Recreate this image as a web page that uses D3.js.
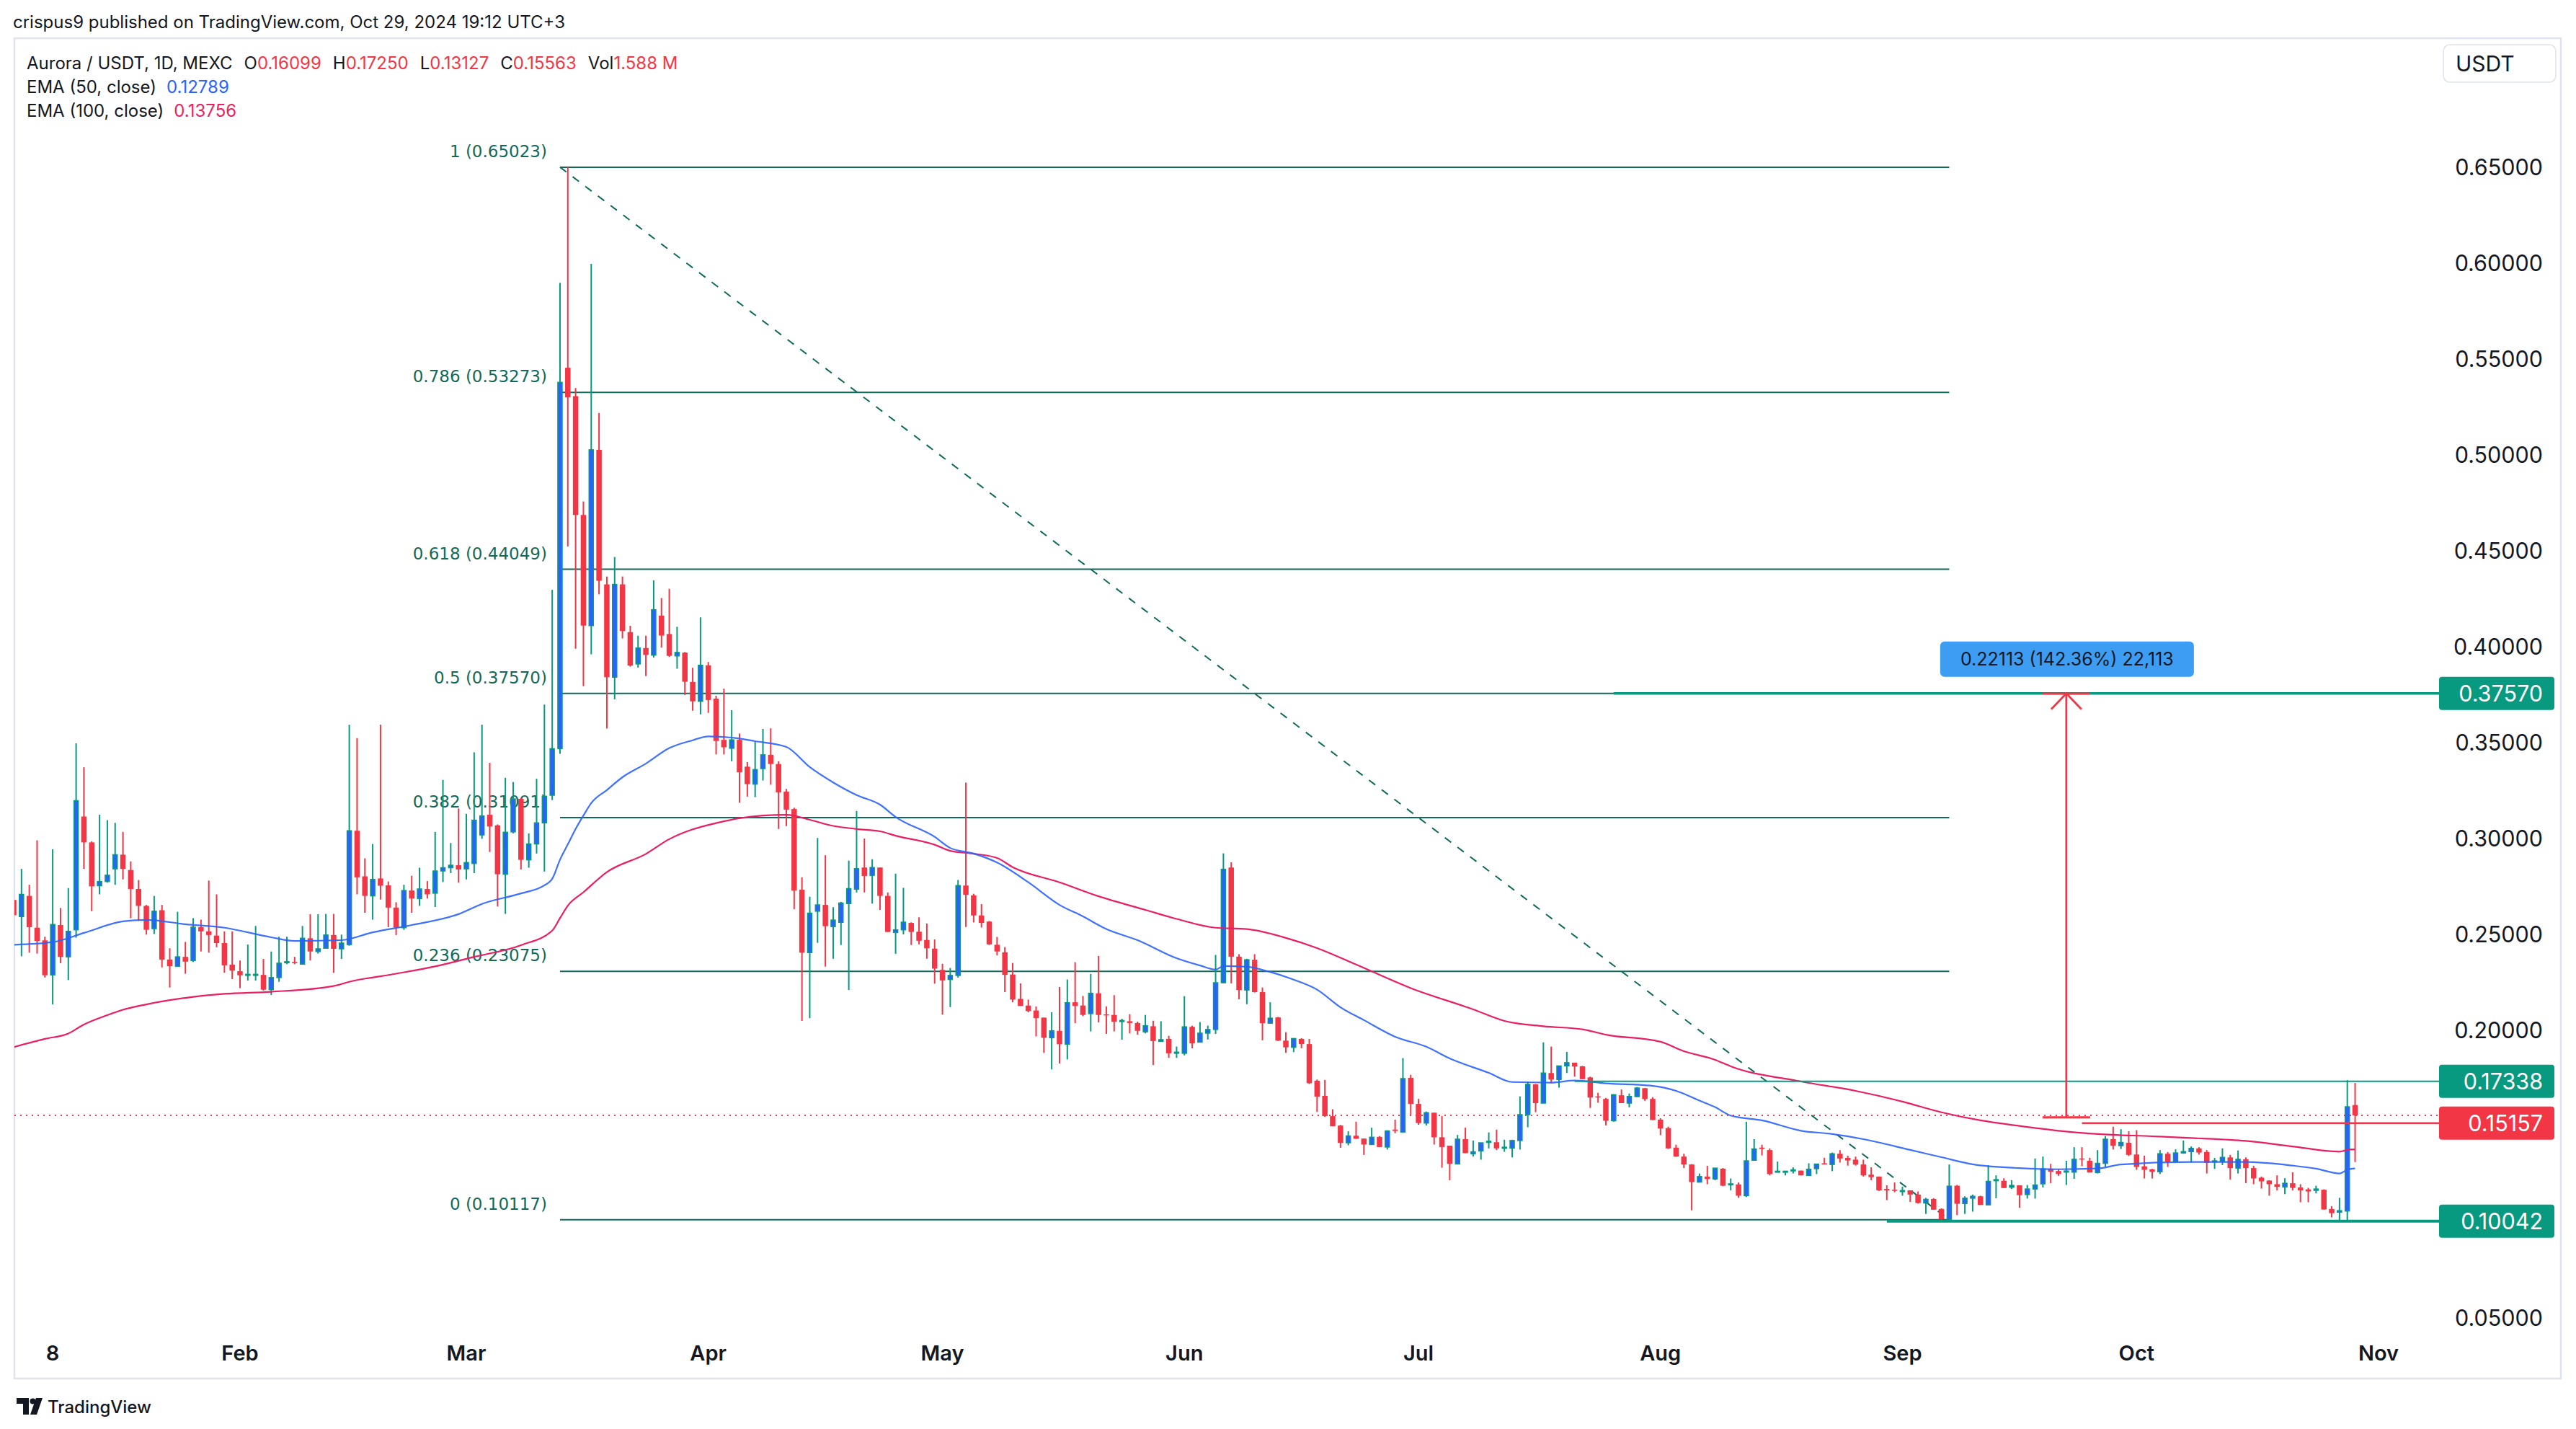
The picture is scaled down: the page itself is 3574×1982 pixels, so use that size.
<!DOCTYPE html>
<html><head><meta charset="utf-8">
<script src="https://cdn.jsdelivr.net/npm/d3@7"></script>
<style>html,body{margin:0;padding:0;background:#fff;} svg{display:block;font-family:Inter,"Noto Sans",sans-serif;}</style>
</head><body><svg id="c" width="3574" height="1982"></svg>
<script>
// ---------------- DATA ----------------
const firstCandleDate = "2024-01-03";
// daily candles [open, high, low, close], one per day from firstCandleDate
const ohlc = [
// Jan 3-31
[.268,.275,.256,.260],[.2593,.2842,.2386,.2709],[.2701,.2759,.2405,.2538],[.2535,.2991,.2400,.2466],[.2469,.2488,.2275,.2287],
[.2289,.2944,.2135,.2552],[.2549,.2638,.2350,.2383],[.2383,.2742,.2262,.2516],[.2524,.3497,.2483,.3198],[.3115,.3372,.2842,.2980],
[.2980,.2986,.2621,.2751],[.2754,.3124,.2709,.2776],[.2776,.3096,.2770,.2809],[.2842,.3082,.2759,.2916],[.2916,.3035,.2787,.2842],
[.2836,.2881,.2585,.2737],[.2737,.2784,.2571,.2649],[.2649,.2654,.2499,.2524],[.2530,.2701,.2502,.2621],[.2626,.2654,.2328,.2369],
[.2369,.2428,.2223,.2334],[.2334,.2618,.2334,.2383],[.2383,.2461,.2295,.2358],[.2364,.2585,.2356,.2538],[.2538,.2577,.2411,.2516],
[.2516,.2781,.2405,.2497],[.2494,.2709,.2433,.2455],[.2455,.2516,.2300,.2339],[.2342,.2516,.2267,.2311],
// Feb 1-29
[.2308,.2364,.2220,.2287],[.2287,.2447,.2259,.2292],[.2287,.2544,.2259,.2292],[.2289,.2372,.2207,.2212],[.2212,.2411,.2184,.2275],
[.2275,.2488,.2253,.2350],[.2353,.2488,.2345,.2358],[.2356,.2383,.2345,.2350],[.2345,.2544,.2345,.2480],[.2480,.2605,.2364,.2411],
[.2411,.2605,.2400,.2425],[.2428,.2607,.2428,.2497],[.2497,.2607,.2300,.2425],[.2425,.2499,.2372,.2455],[.2447,.3594,.2441,.3041],
[.3041,.3524,.2709,.2798],[.2803,.2897,.2613,.2701],[.2701,.2972,.2577,.2787],[.2792,.3594,.2682,.2754],[.2756,.2776,.2538,.2640],
[.2640,.2668,.2497,.2535],[.2535,.2759,.2524,.2729],[.2729,.2806,.2613,.2687],[.2687,.2848,.2649,.2737],[.2737,.2778,.2687,.2709],
[.2715,.3035,.2643,.2831],[.2831,.3306,.2773,.2848],[.2848,.2977,.2820,.2861],[.2861,.3157,.2770,.2839],
// Mar 1-31
[.2842,.3129,.2787,.2875],[.2870,.3450,.2820,.3096],[.3019,.3594,.2999,.3118],[.3124,.3395,.2930,.3063],[.3069,.3074,.2646,.2814],
[.2814,.3317,.2607,.3033],[.3035,.3295,.3027,.3207],[.3207,.3212,.2839,.2889],[.2889,.3027,.2848,.2972],[.2972,.3312,.2922,.3082],
[.3082,.3699,.2828,.3221],[.3226,.4298,.3201,.3469],[.3469,.5899,.3442,.5380],[.5456,.65023,.4524,.5302],[.5308,.5350,.3990,.4688],
[.4688,.4759,.3795,.4111],[.4111,.5998,.3961,.5028],[.5028,.5220,.4274,.4345],[.4326,.4367,.3574,.3842],[.3842,.4469,.3726,.4326],
[.4326,.4367,.4044,.4083],[.4077,.4110,.3897,.3903],[.3911,.4058,.3892,.3994],[.3994,.4058,.3848,.3958],[.3957,.4347,.3944,.4194],
[.4163,.4255,.3996,.4059],[.4067,.4303,.3948,.3953],[.3953,.4105,.3886,.3971],[.3970,.3973,.3749,.3818],[.3817,.3891,.3667,.3716],
[.3716,.4154,.3648,.3904],
// Apr 1-30
[.3904,.3921,.3656,.3723],[.3730,.3745,.3439,.3509],[.3515,.3782,.3439,.3476],[.3471,.3670,.3403,.3515],[.3515,.3548,.3187,.3346],
[.3375,.3399,.3219,.3284],[.3284,.3504,.3216,.3360],[.3365,.3572,.3303,.3437],[.3437,.3575,.3281,.3389],[.3389,.3403,.3050,.3241],
[.3245,.3259,.3065,.3151],[.3154,.3161,.2632,.2729],[.2733,.2798,.2049,.2405],[.2405,.2697,.2063,.2611],[.2621,.3003,.2456,.2654],
[.2654,.2913,.2332,.2543],[.2541,.2642,.2373,.2575],[.2563,.2670,.2445,.2664],[.2661,.2885,.2210,.2739],[.2736,.3144,.2719,.2843],
[.2849,.3000,.2719,.2805],[.2808,.2892,.2661,.2849],[.2849,.2849,.2628,.2701],[.2701,.2719,.2513,.2513],[.2510,.2817,.2399,.2524],
[.2524,.2743,.2500,.2564],[.2560,.2563,.2445,.2513],[.2514,.2589,.2448,.2467],[.2471,.2557,.2373,.2428],[.2426,.2474,.2243,.2322],
// May 1-31
[.2315,.2347,.2082,.2260],[.2265,.2325,.2121,.2286],[.2286,.2784,.2275,.2755],[.2755,.3292,.2539,.2707],[.2704,.2712,.2563,.2599],
[.2599,.2658,.2536,.2560],[.2567,.2570,.2445,.2448],[.2446,.2487,.2391,.2411],[.2407,.2434,.2199,.2289],[.2291,.2351,.2146,.2160],
[.2164,.2245,.2127,.2127],[.2129,.2160,.2094,.2100],[.2103,.2124,.1968,.2063],[.2066,.2066,.1882,.1961],[.1961,.2094,.1796,.1997],
[.1997,.2226,.1827,.1927],[.1927,.2265,.1848,.2144],[.2146,.2355,.2037,.2127],[.2129,.2179,.2074,.2080],[.2087,.2294,.1994,.2193],
[.2193,.2388,.2041,.2080],[.2083,.2124,.1981,.2078],[.2080,.2183,.1994,.2045],[.2046,.2060,.1951,.2051],[.2047,.2084,.1984,.2038],
[.2038,.2045,.1977,.1997],[.1992,.2080,.1984,.2024],[.2021,.2050,.1819,.1944],[.1942,.2047,.1942,.1951],[.1955,.1971,.1856,.1880],
[.1880,.1915,.1856,.1886],
// Jun 1-30
[.1880,.2178,.1869,.2018],[.2018,.2024,.1906,.1932],[.1938,.2043,.1938,.1985],[.1985,.2024,.1952,.2004],[.2004,.2393,.1981,.2248],
[.2248,.2923,.2245,.2840],[.2849,.2876,.2245,.2384],[.2384,.2397,.2162,.2210],[.2210,.2373,.2136,.2368],[.2368,.2397,.2197,.2199],
[.2199,.2223,.1948,.2037],[.2037,.2146,.2037,.2063],[.2067,.2070,.1944,.1946],[.1946,.1990,.1882,.1911],[.1911,.1959,.1886,.1957],
[.1955,.1959,.1906,.1928],[.1928,.1955,.1720,.1724],[.1737,.1743,.1574,.1654],[.1658,.1741,.1548,.1552],[.1552,.1588,.1499,.1499],
[.1503,.1506,.1387,.1413],[.1413,.1473,.1400,.1449],[.1450,.1523,.1434,.1434],[.1435,.1435,.1350,.1404],[.1404,.1492,.1404,.1442],
[.1444,.1448,.1391,.1391],[.1391,.1478,.1378,.1475],[.1482,.1534,.1463,.1475],[.1469,.1855,.1469,.1748],[.1752,.1768,.1557,.1616],
// Jul 1-31
[.1616,.1642,.1507,.1516],[.1516,.1576,.1504,.1570],[.1570,.1570,.1404,.1442],[.1442,.1553,.1283,.1391],[.1398,.1398,.1218,.1303],
[.1303,.1454,.1303,.1432],[.1432,.1492,.1359,.1359],[.1356,.1425,.1341,.1366],[.1371,.1413,.1325,.1413],[.1416,.1467,.1384,.1421],
[.1416,.1482,.1375,.1384],[.1385,.1429,.1366,.1390],[.1385,.1429,.1337,.1425],[.1425,.1655,.1378,.1560],[.1560,.1733,.1494,.1718],
[.1718,.1720,.1573,.1620],[.1620,.1937,.1620,.1777],[.1777,.1915,.1724,.1743],[.1743,.1814,.1701,.1814],[.1814,.1887,.1777,.1831],
[.1831,.1831,.1758,.1811],[.1812,.1814,.1745,.1745],[.1754,.1758,.1595,.1649],[.1655,.1674,.1622,.1651],[.1642,.1647,.1504,.1528],
[.1528,.1666,.1523,.1664],[.1661,.1691,.1620,.1620],[.1620,.1670,.1598,.1655],[.1654,.1704,.1651,.1699],[.1698,.1698,.1632,.1641],
[.1642,.1651,.1532,.1532],
// Aug 1-31
[.1534,.1541,.1453,.1488],[.1490,.1497,.1381,.1384],[.1388,.1403,.1340,.1341],[.1341,.1356,.1281,.1300],[.1300,.1302,.1061,.1208],
[.1208,.1253,.1206,.1237],[.1237,.1293,.1197,.1224],[.1224,.1281,.1218,.1281],[.1278,.1281,.1187,.1189],[.1196,.1227,.1165,.1199],
[.1196,.1206,.1126,.1137],[.1137,.1523,.1130,.1319],[.1322,.1432,.1319,.1381],[.1388,.1403,.1347,.1381],[.1375,.1384,.1243,.1250],
[.1260,.1315,.1260,.1265],[.1262,.1265,.1243,.1265],[.1268,.1285,.1253,.1272],[.1268,.1268,.1243,.1243],[.1243,.1306,.1243,.1275],
[.1278,.1302,.1250,.1302],[.1306,.1335,.1300,.1300],[.1300,.1362,.1265,.1356],[.1356,.1375,.1310,.1331],[.1334,.1346,.1294,.1321],
[.1325,.1341,.1294,.1300],[.1300,.1325,.1237,.1243],[.1247,.1285,.1218,.1234],[.1237,.1237,.1162,.1165],[.1172,.1191,.1114,.1165],
[.1168,.1206,.1155,.1164],
// Sep 1-30
[.1159,.1184,.1137,.1164],[.1165,.1165,.1105,.1143],[.1143,.1159,.1096,.1099],[.1099,.1126,.1042,.1118],[.1120,.1124,.1064,.1064],
[.1068,.1071,.10042,.1014],[.1014,.1300,.10117,.1187],[.1189,.1193,.1036,.1095],[.1096,.1134,.1042,.1124],[.1124,.1143,.1054,.1134],
[.1134,.1137,.1089,.1089],[.1089,.1296,.1089,.1212],[.1216,.1243,.1124,.1221],[.1215,.1228,.1177,.1177],[.1181,.1218,.1172,.1191],
[.1191,.1191,.1074,.1140],[.1143,.1193,.1122,.1172],[.1172,.1331,.1122,.1193],[.1199,.1341,.1180,.1277],[.1277,.1303,.1203,.1262],
[.1266,.1275,.1241,.1250],[.1260,.1319,.1193,.1266],[.1260,.1390,.1225,.1327],[.1331,.1390,.1291,.1327],[.1319,.1335,.1258,.1258],
[.1258,.1375,.1253,.1306],[.1306,.1448,.1287,.1432],[.1432,.1497,.1378,.1398],[.1398,.1484,.1381,.1415],[.1413,.1473,.1344,.1350],
// Oct 1-29
[.1352,.1479,.1272,.1287],[.1290,.1346,.1227,.1272],[.1275,.1277,.1227,.1262],[.1262,.1375,.1250,.1356],[.1356,.1365,.1287,.1315],
[.1315,.1379,.1310,.1360],[.1360,.1425,.1356,.1367],[.1367,.1394,.1310,.1384],[.1384,.1390,.1352,.1362],[.1365,.1375,.1253,.1308],
[.1315,.1334,.1277,.1319],[.1316,.1384,.1297,.1337],[.1337,.1350,.1221,.1281],[.1281,.1373,.1253,.1327],[.1327,.1337,.1203,.1281],
[.1281,.1293,.1197,.1227],[.1231,.1237,.1174,.1212],[.1216,.1218,.1137,.1197],[.1197,.1243,.1165,.1183],[.1183,.1228,.1145,.1202],
[.1202,.1259,.1165,.1178],[.1180,.1197,.1103,.1165],[.1170,.1178,.1103,.1159],[.1165,.1189,.1149,.1172],[.1168,.1170,.1064,.1065],
[.1068,.1083,.1024,.1046],[.1051,.1126,.1008,.1059],[.1057,.1740,.1009,.1601],[.16099,.17250,.13127,.15563]
];

const ema50 = [
["2024-01-03",.2446],["2024-01-08",.2460],["2024-01-12",.2508],["2024-01-17",.2568],["2024-01-20",.2576],["2024-01-25",.2553],
["2024-01-30",.2535],["2024-02-05",.2485],["2024-02-08",.2466],["2024-02-14",.2470],["2024-02-18",.2511],["2024-02-23",.2549],
["2024-02-29",.2606],["2024-03-03",.2659],["2024-03-08",.2714],["2024-03-11",.2756],["2024-03-12",.2790],["2024-03-13",.2890],
["2024-03-14",.2970],["2024-03-15",.3050],["2024-03-16",.3120],["2024-03-17",.3185],["2024-03-19",.3253],["2024-03-21",.3320],
["2024-03-24",.3391],["2024-03-27",.3472],["2024-03-30",.3513],["2024-04-01",.3533],["2024-04-04",.3527],["2024-04-07",.3508],
["2024-04-11",.3478],["2024-04-14",.3373],["2024-04-17",.3293],["2024-04-20",.3227],["2024-04-23",.3177],["2024-04-25",.3113],
["2024-04-30",.3009],["2024-05-02",.2951],["2024-05-05",.2922],["2024-05-08",.2875],["2024-05-12",.2772],["2024-05-16",.2654],
["2024-05-19",.2594],["2024-05-22",.2528],["2024-05-26",.2470],["2024-05-31",.2376],["2024-06-03",.2338],["2024-06-05",.2317],
["2024-06-06",.2335],["2024-06-09",.2331],["2024-06-12",.2304],["2024-06-15",.2264],["2024-06-18",.2212],["2024-06-21",.2120],
["2024-06-24",.2053],["2024-06-28",.1966],["2024-07-02",.1914],["2024-07-05",.1853],["2024-07-10",.1778],["2024-07-13",.1730],
["2024-07-18",.1727],["2024-07-21",.1738],["2024-07-25",.1723],["2024-07-31",.1710],["2024-08-03",.1684],["2024-08-06",.1633],
["2024-08-08",.1599],["2024-08-10",.1555],["2024-08-14",.1530],["2024-08-19",.1476],["2024-08-23",.1459],["2024-08-27",.1432],
["2024-09-02",.1376],["2024-09-06",.1338],["2024-09-10",.1301],["2024-09-16",.1281],["2024-09-21",.1275],["2024-09-26",.1279],
["2024-09-29",.1300],["2024-10-08",.1313],["2024-10-15",.1313],["2024-10-21",.1294],["2024-10-24",.1278],["2024-10-27",.1253],
["2024-10-28",.1273],["2024-10-29",.1279]
];

const ema100 = [
["2024-01-03",.1912],["2024-01-07",.1955],["2024-01-10",.1983],["2024-01-12",.2030],["2024-01-15",.2079],["2024-01-17",.2107],
["2024-01-20",.2135],["2024-01-25",.2169],["2024-01-30",.2190],["2024-02-05",.2201],["2024-02-13",.2231],["2024-02-15",.2253],
["2024-02-21",.2295],["2024-02-26",.2333],["2024-03-02",.2383],["2024-03-08",.2444],["2024-03-12",.2520],["2024-03-13",.2585],
["2024-03-14",.2650],["2024-03-16",.2720],["2024-03-19",.2825],["2024-03-24",.2920],["2024-03-27",.2997],["2024-03-30",.3048],
["2024-04-02",.3081],["2024-04-05",.3106],["2024-04-08",.3120],["2024-04-11",.3124],["2024-04-14",.3098],["2024-04-17",.3066],
["2024-04-20",.3050],["2024-04-23",.3038],["2024-04-25",.3015],["2024-04-30",.2968],["2024-05-02",.2936],["2024-05-05",.2921],
["2024-05-08",.2899],["2024-05-10",.2851],["2024-05-16",.2772],["2024-05-21",.2699],["2024-05-27",.2628],["2024-05-31",.2581],
["2024-06-05",.2535],["2024-06-09",.2528],["2024-06-14",.2482],["2024-06-18",.2429],["2024-06-23",.2343],["2024-06-30",.2220],
["2024-07-08",.2109],["2024-07-12",.2049],["2024-07-17",.2021],["2024-07-22",.2005],["2024-07-25",.1977],["2024-08-01",.1940],
["2024-08-04",.1891],["2024-08-08",.1846],["2024-08-10",.1812],["2024-08-19",.1733],["2024-08-26",.1684],["2024-09-01",.1628],
["2024-09-06",.1572],["2024-09-11",.1530],["2024-09-16",.1501],["2024-09-21",.1476],["2024-09-26",.1459],["2024-10-03",.1447],
["2024-10-08",.1438],["2024-10-15",.1423],["2024-10-21",.1394],["2024-10-27",.1367],["2024-10-28",.1376],["2024-10-29",.1379]
];

const priceTicks = [0.05, 0.20, 0.25, 0.30, 0.35, 0.40, 0.45, 0.50, 0.55, 0.60, 0.65];
const timeTickDates = ["2024-01-08","2024-02-01","2024-03-01","2024-04-01","2024-05-01","2024-06-01","2024-07-01","2024-08-01","2024-09-01","2024-10-01","2024-11-01"];
const timeTickLabels = ["8","Feb","Mar","Apr","May","Jun","Jul","Aug","Sep","Oct","Nov"];

const fibRatios = ["1","0.786","0.618","0.5","0.382","0.236","0"];
const fibPrices = [0.65023, 0.53273, 0.44049, 0.37570, 0.31091, 0.23075, 0.10117];
const fibStartDate = "2024-03-13", fibEndDate = "2024-09-07";

const tealLevels = [0.37570, 0.17338, 0.10042];
const tealLevelStarts = ["2024-07-26", "2024-07-21", "2024-08-30"];
const redLevel = 0.15157, redLevelStart = "2024-09-24";
const lastClose = 0.15563;

const rangeFrom = 0.15457, rangeTo = 0.37570, rangeDate = "2024-09-22";
const rangeText = "0.22113 (142.36%) 22,113";

const headerText = "crispus9 published on TradingView.com, Oct 29, 2024 19:12 UTC+3";
const legendTitle = "Aurora / USDT, 1D, MEXC";
const legendKeys = ["O","H","L","C","Vol"];
const legendVals = ["0.16099","0.17250","0.13127","0.15563","1.588 M"];
const emaNames = ["EMA (50, close)","EMA (100, close)"];
const emaLast = ["0.12789","0.13756"];

// ---------------- DRAW ----------------
const W = 3574, H = 1982;
const GREEN = "#089981", RED = "#f23645", BLUE = "#2962ff", PINK = "#e91e63", FIB = "#11695a", TXT = "#131722";
const parse = d3.utcParse("%Y-%m-%d");
const svg = d3.select("#c");
svg.append("rect").attr("width", W).attr("height", H).attr("fill", "#fff");

const plot = {left: 20, top: 53, right: 3384, bottom: 1912};
const x = d3.scaleUtc().domain([parse("2024-02-01"), parse("2024-11-01")]).range([333, 3300]);
const y = d3.scaleLinear().domain([0.05, 0.65]).range([1827.8, 232.5]);

const start = parse(firstCandleDate);
const candles = ohlc.map((r, i) => ({date: d3.utcDay.offset(start, i), o: r[0], h: r[1], l: r[2], c: r[3]}));

// frame
svg.append("rect").attr("x", 20).attr("y", 53).attr("width", 3533).attr("height", 1859)
  .attr("fill", "none").attr("stroke", "#e0e3eb").attr("stroke-width", 2.5);

// header
svg.append("text").attr("x", 18).attr("y", 39).attr("font-size", 24).attr("fill", TXT).text(headerText);

const defs = svg.append("defs");
defs.append("clipPath").attr("id", "clip").append("rect")
  .attr("x", plot.left).attr("y", plot.top).attr("width", plot.right - plot.left).attr("height", plot.bottom - plot.top);
const g = svg.append("g").attr("clip-path", "url(#clip)");

// fib labels (under candles)
g.selectAll("text.fib").data(fibPrices).join("text")
  .attr("x", x(parse(fibStartDate)) - 18).attr("y", d => y(d) - 14)
  .attr("text-anchor", "end").attr("font-family", "DejaVu Sans").attr("font-size", 23)
  .attr("fill", FIB).text((d, i) => `${fibRatios[i]} (${d.toFixed(5)})`);

// fib lines
const fx0 = x(parse(fibStartDate)), fx1 = x(parse(fibEndDate));
g.selectAll("line.fib").data(fibPrices).join("line")
  .attr("x1", fx0).attr("x2", fx1).attr("y1", d => y(d)).attr("y2", d => y(d))
  .attr("stroke", FIB).attr("stroke-width", 2);
g.append("line").attr("x1", fx0).attr("y1", y(fibPrices[0])).attr("x2", fx1).attr("y2", y(fibPrices[6]))
  .attr("stroke", FIB).attr("stroke-width", 2).attr("stroke-dasharray", "11,11");

// dotted last price line
g.append("line").attr("x1", plot.left).attr("x2", plot.right).attr("y1", y(lastClose)).attr("y2", y(lastClose))
  .attr("stroke", RED).attr("stroke-width", 2).attr("stroke-dasharray", "2,6");

// candles
const bw = 7.5;
const cg = g.append("g");
cg.selectAll("line.wick").data(candles).join("line")
  .attr("x1", d => x(d.date)).attr("x2", d => x(d.date)).attr("y1", d => y(d.h)).attr("y2", d => y(d.l))
  .attr("stroke", d => d.c >= d.o ? GREEN : RED).attr("stroke-width", 2);
cg.selectAll("rect.body").data(candles).join("rect")
  .attr("x", d => x(d.date) - (d.c >= d.o ? bw/2 - 0.75 : bw/2))
  .attr("width", d => d.c >= d.o ? bw - 1.5 : bw)
  .attr("y", d => y(Math.max(d.o, d.c)))
  .attr("height", d => Math.max(1.5, Math.abs(y(d.o) - y(d.c))))
  .attr("fill", d => d.c >= d.o ? BLUE : RED)
  .attr("stroke", d => d.c >= d.o ? GREEN : "none").attr("stroke-width", 1.5);

// EMAs
const line = d3.line().x(d => x(parse(d[0]))).y(d => y(d[1])).curve(d3.curveMonotoneX);
g.append("path").attr("d", line(ema100)).attr("fill", "none").attr("stroke", PINK).attr("stroke-width", 2.2);
g.append("path").attr("d", line(ema50)).attr("fill", "none").attr("stroke", BLUE).attr("stroke-width", 2.2).attr("opacity", 0.9);

// teal horizontal levels
const tealW = [3.5, 2.2, 4];
svg.selectAll("line.teal").data(tealLevels).join("line")
  .attr("x1", (d, i) => x(parse(tealLevelStarts[i]))).attr("x2", plot.right)
  .attr("y1", d => y(d)).attr("y2", d => y(d)).attr("stroke", GREEN).attr("stroke-width", (d, i) => tealW[i]);
svg.append("line").attr("x1", x(parse(redLevelStart))).attr("x2", plot.right)
  .attr("y1", y(redLevel)).attr("y2", y(redLevel)).attr("stroke", RED).attr("stroke-width", 2.5);

// price range tool
const rx = x(parse(rangeDate));
const rg = svg.append("g").attr("stroke", RED).attr("stroke-width", 2.8).attr("fill", "none");
rg.append("line").attr("x1", rx).attr("x2", rx).attr("y1", y(rangeTo)).attr("y2", y(rangeFrom));
rg.append("line").attr("x1", rx - 33).attr("x2", rx + 33).attr("y1", y(rangeTo)).attr("y2", y(rangeTo));
rg.append("line").attr("x1", rx - 33).attr("x2", rx + 33).attr("y1", y(rangeFrom)).attr("y2", y(rangeFrom));
rg.append("path").attr("d", `M${rx-21},${y(rangeTo)+22} L${rx},${y(rangeTo)} L${rx+21},${y(rangeTo)+22}`);
svg.append("rect").attr("x", rx - 175).attr("y", y(rangeTo) - 72).attr("width", 352).attr("height", 49)
  .attr("rx", 6).attr("fill", "#3d9df2");
svg.append("text").attr("x", rx + 1).attr("y", y(rangeTo) - 47.5).attr("dy", "0.35em").attr("text-anchor", "middle")
  .attr("font-size", 25).attr("fill", TXT).text(rangeText);

// price axis ticks
svg.selectAll("text.ptick").data(priceTicks).join("text")
  .attr("x", 3528).attr("y", d => y(d)).attr("dy", "0.36em").attr("text-anchor", "end")
  .attr("font-size", 30.5).attr("fill", TXT).text(d => d3.format(".5f")(d));

// price labels
const labels = [
  {v: tealLevels[0], col: GREEN}, {v: tealLevels[1], col: GREEN},
  {v: redLevel, col: RED}, {v: tealLevels[2], col: GREEN}
];
const lg = svg.selectAll("g.plabel").data(labels).join("g");
lg.append("rect").attr("x", 3384).attr("y", d => y(d.v) - 23).attr("width", 160).attr("height", 46)
  .attr("rx", 4).attr("fill", d => d.col);
lg.append("text").attr("x", 3528).attr("y", d => y(d.v)).attr("dy", "0.36em").attr("text-anchor", "end")
  .attr("font-size", 30.5).attr("fill", "#fff").text(d => d.v.toFixed(5));

// USDT box
svg.append("rect").attr("x", 3390).attr("y", 62).attr("width", 156).attr("height", 52).attr("rx", 9)
  .attr("fill", "#fff").attr("stroke", "#e0e3eb").attr("stroke-width", 1.5);
svg.append("text").attr("x", 3407).attr("y", 88).attr("dy", "0.36em").attr("font-size", 30).attr("fill", TXT).text("USDT");

// time axis
svg.selectAll("text.ttick").data(timeTickDates).join("text")
  .attr("x", d => x(parse(d))).attr("y", 1877).attr("dy", "0.36em").attr("text-anchor", "middle")
  .attr("font-size", 29).attr("font-weight", 600).attr("fill", TXT).text((d, i) => timeTickLabels[i]);

// legend
const leg = svg.append("text").attr("x", 37).attr("y", 87).attr("dy", "0.36em").attr("font-size", 24).attr("fill", TXT);
leg.append("tspan").text(legendTitle);
legendKeys.forEach((k, i) => {
  leg.append("tspan").attr("dx", 16).attr("fill", TXT).text(k);
  leg.append("tspan").attr("fill", RED).text(legendVals[i]);
});
emaNames.forEach((n, i) => {
  const t = svg.append("text").attr("x", 37).attr("y", 120 + i * 33).attr("dy", "0.36em").attr("font-size", 24).attr("fill", TXT);
  t.append("tspan").text(n);
  t.append("tspan").attr("dx", 14).attr("fill", i === 0 ? BLUE : PINK).text(emaLast[i]);
});

// TradingView logo
const logo = svg.append("g").attr("fill", TXT);
logo.append("path").attr("d", "M23,1939 h17 v23 h-8 v-15 h-9 z");
logo.append("circle").attr("cx", 45.5).attr("cy", 1943.5).attr("r", 4);
logo.append("path").attr("d", "M50,1939 h9 l-8,23 h-9 z");
svg.append("text").attr("x", 66).attr("y", 1951).attr("dy", "0.36em").attr("font-size", 24).attr("font-weight", 500)
  .attr("fill", TXT).text("TradingView");
</script>
</body></html>
